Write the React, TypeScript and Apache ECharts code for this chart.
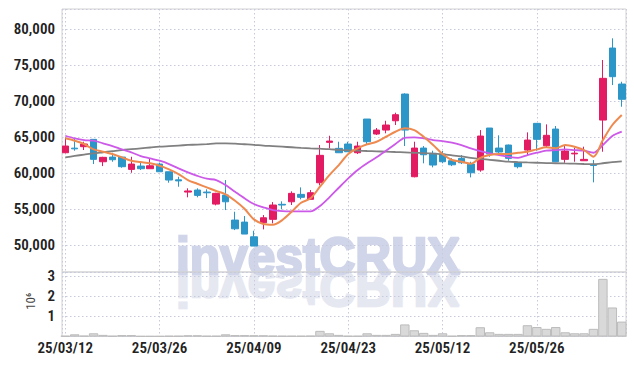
import { useEffect, useRef } from 'react';
import * as echarts from 'echarts';

const dates = [
  '25/03/12', '25/03/13', '25/03/14', '25/03/17', '25/03/18', '25/03/19', '25/03/20', '25/03/21', '25/03/24', '25/03/25',
  '25/03/26', '25/03/27', '25/03/28', '25/03/31', '25/04/01', '25/04/02', '25/04/03', '25/04/04', '25/04/07', '25/04/08',
  '25/04/09', '25/04/10', '25/04/11', '25/04/14', '25/04/15', '25/04/16', '25/04/17', '25/04/18', '25/04/21', '25/04/22',
  '25/04/23', '25/04/24', '25/04/25', '25/04/28', '25/04/29', '25/04/30', '25/05/02', '25/05/07', '25/05/08', '25/05/09',
  '25/05/12', '25/05/13', '25/05/14', '25/05/15', '25/05/16', '25/05/19', '25/05/20', '25/05/21', '25/05/22', '25/05/23',
  '25/05/26', '25/05/27', '25/05/28', '25/05/29', '25/05/30', '25/06/02', '25/06/04', '25/06/05', '25/06/09', '25/06/10',
];

// [open, close, low, high]
const candles = [
  [62860, 63790, 62800, 64970], [63500, 63400, 63140, 64860], [63700, 64070, 63240, 64390], [64720, 61940, 61290, 64720],
  [61610, 62220, 61010, 62300], [62260, 61890, 61610, 62860], [62260, 60920, 60780, 62260], [60550, 61290, 60080, 62300],
  [61010, 60640, 60460, 61610], [60640, 61050, 60640, 62080], [61290, 60220, 60220, 61470], [60220, 59070, 58700, 60220],
  [59100, 58950, 58140, 59530], [57400, 57550, 56670, 57920], [57680, 56940, 56670, 57920], [57400, 57300, 56570, 57780],
  [55730, 57220, 55550, 57300], [56980, 56050, 54900, 59070], [53510, 52300, 52120, 54670], [53230, 51570, 51570, 54070],
  [51190, 49900, 49900, 52030], [53140, 53830, 52220, 54210], [53610, 55600, 53050, 56010], [55700, 55600, 55000, 56110],
  [56050, 57220, 55600, 57500], [57080, 56670, 56390, 58050], [56390, 57310, 56390, 57680], [58690, 62500, 58330, 63930],
  [64300, 64480, 63470, 65220], [63470, 62860, 62860, 64390], [64070, 63000, 63000, 64390], [62860, 63790, 62680, 64390],
  [67540, 64390, 63930, 67540], [65460, 66010, 65320, 66290], [66010, 66710, 65560, 67300], [67300, 68140, 66710, 68420],
  [71010, 66010, 63790, 71110], [59530, 63510, 59440, 64390], [63510, 62580, 61390, 63790], [62780, 61150, 60830, 63140],
  [62680, 61610, 61400, 63100], [61750, 61190, 61010, 62100], [62080, 61470, 61290, 62540], [61290, 60080, 59440, 61610],
  [60460, 65180, 60220, 66010], [66290, 62680, 62300, 66290], [63510, 62960, 62680, 65280], [63930, 62080, 61750, 64000],
  [61530, 60920, 60690, 61530], [63230, 64620, 62540, 65690], [66940, 64720, 63140, 66940], [63830, 65280, 63550, 66800],
  [66150, 61610, 61610, 66570], [61940, 63100, 61470, 63790], [62700, 62800, 61610, 63550], [61750, 61940, 61750, 63700],
  [61200, 61100, 58750, 61850], [67400, 73190, 63000, 75740], [77400, 73420, 72260, 78750], [72400, 70280, 69250, 72720],
];

const volumes = [
  30000, 110000, 40000, 160000, 80000, 30000, 70000, 70000, 20000, 20000,
  20000, 30000, 30000, 60000, 60000, 30000, 30000, 110000, 70000, 70000,
  60000, 60000, 40000, 30000, 30000, 30000, 40000, 280000, 160000, 80000,
  30000, 30000, 160000, 80000, 80000, 130000, 600000, 310000, 180000, 80000,
  160000, 30000, 70000, 70000, 460000, 210000, 130000, 130000, 130000, 560000,
  470000, 380000, 470000, 210000, 160000, 160000, 380000, 2860000, 1440000, 740000,
];

const ma5 = [
  64860, 64530, 64070, 63330, 63000, 62680, 62220, 61750, 61570, 61390,
  61050, 60550, 59900, 59070, 58550, 58050, 57550, 57080, 56190, 55080,
  53610, 52960, 52860, 53510, 54670, 55920, 56530, 58140, 59760, 61150,
  62680, 63470, 64030, 64390, 65080, 65780, 66250, 66010, 65080, 63930,
  62680, 61850, 61610, 61330, 62150, 62540, 62680, 62680, 62860, 63000,
  63330, 63610, 63470, 63930, 63700, 63230, 62300, 64620, 66710, 68100,
];

const ma20 = [
  65220, 64860, 64620, 64530, 64170, 63790, 63330, 62910, 62400, 62080,
  61750, 61290, 60690, 60140, 59650, 59250, 59070, 58370, 57440, 56530,
  55740, 55280, 54900, 54760, 54720, 54720, 54720, 55460, 56670, 58000,
  59300, 60460, 61390, 62220, 63140, 64070, 64940, 65000, 64860, 64620,
  64480, 64250, 63930, 63470, 63100, 62780, 62540, 62300, 62160, 62540,
  62860, 63140, 63230, 63330, 63230, 63140, 62860, 63930, 65180, 65780,
];

const ma60 = [
  62220, 62420, 62600, 62780, 62930, 63080, 63230, 63350, 63470, 63590,
  63700, 63780, 63860, 63940, 64000, 64070, 64150, 64170, 64120, 64040,
  63960, 63850, 63780, 63700, 63620, 63540, 63470, 63420, 63360, 63260,
  63200, 63150, 63100, 63060, 63010, 62960, 62920, 62860, 62820, 62750,
  62640, 62500, 62350, 62150, 62000, 61880, 61750, 61620, 61560, 61510,
  61470, 61430, 61400, 61370, 61340, 61300, 61280, 61400, 61550, 61650,
];

const FONT = '"Noto Sans Condensed", "Liberation Sans Narrow", "Roboto Condensed", "Arial Narrow", "DejaVu Sans Condensed", sans-serif';
const UP = '#e31b63';
const DOWN = '#2d96c8';
const GRIDLINE = { show: true, lineStyle: { color: '#c6cadb', width: 1, type: [1.5, 2.5] as any } };

export default function App() {
  const ref = useRef<HTMLDivElement>(null);
  useEffect(() => {
    document.body.style.margin = '0';
    if (!ref.current) return;
    const chart = echarts.init(ref.current, undefined, { renderer: 'svg' });
    const xCommon = {
      type: 'value' as const,
      min: -0.35,
      max: 59.45,
      splitNumber: 6,
      minInterval: 10,
      maxInterval: 10,
      axisLine: { show: false },
      axisTick: { show: false },
      splitLine: GRIDLINE,
    };
    const labelStyle = { fontSize: 15, fontWeight: 600, color: '#222', fontFamily: FONT };
    const wmStyle = {
      text: 'investCRUX',
      x: 0,
      y: -16.4,
      fontSize: 52,
      fontWeight: 'bold',
      fontFamily: '"Liberation Sans", Arial, sans-serif',
      align: 'left',
      verticalAlign: 'middle',
      lineWidth: 2.5,
      lineJoin: 'round',
    };
    const option: any = {
      animation: false,
      textStyle: { fontFamily: FONT },
      grid: [
        { left: 62, top: 9, width: 564, height: 263, show: true, borderColor: '#d2d2d2', borderWidth: 1, outerBoundsMode: 'none' },
        { left: 62, top: 272, width: 564, height: 64.5, show: true, borderColor: '#d2d2d2', borderWidth: 1, outerBoundsMode: 'none' },
      ],
      xAxis: [
        { ...xCommon, gridIndex: 0, axisLabel: { show: false } },
        {
          ...xCommon,
          gridIndex: 1,
          axisLabel: {
            show: true,
            margin: 4,
            ...labelStyle,
            formatter: (v: number) => (Number.isInteger(v) && v >= 0 && v % 10 === 0 && dates[v] ? dates[v] : ''),
          },
        },
      ],
      yAxis: [
        {
          type: 'value',
          gridIndex: 0,
          min: 46300,
          max: 82820,
          splitNumber: 7,
          minInterval: 5000,
          maxInterval: 5000,
          axisLine: { show: false },
          axisTick: { show: false },
          splitLine: GRIDLINE,
          axisLabel: {
            margin: 7,
            ...labelStyle,
            formatter: (v: number) => (v % 5000 === 0 ? v.toLocaleString('en-US') : ''),
          },
        },
        {
          type: 'value',
          gridIndex: 1,
          min: 0,
          max: 3200000,
          splitNumber: 3,
          minInterval: 1000000,
          maxInterval: 1000000,
          axisLine: { show: false },
          axisTick: { show: false },
          splitLine: GRIDLINE,
          name: '10⁶',
          nameLocation: 'middle',
          nameRotate: 90,
          nameGap: 23,
          nameTextStyle: { fontSize: 13, color: '#444', fontFamily: FONT, padding: [0, 0, 0, 6] },
          axisLabel: {
            margin: 7,
            ...labelStyle,
            formatter: (v: number) => (v > 0 && v % 1000000 === 0 ? String(v / 1000000) : ''),
          },
        },
      ],
      graphic: [
        {
          type: 'text',
          x: 176,
          y: 272,
          scaleX: 0.955,
          scaleY: -1,
          z: -10,
          silent: true,
          style: { ...wmStyle, fill: '#e6e8f1', stroke: '#e6e8f1' },
        },
        {
          type: 'text',
          x: 176,
          y: 272,
          scaleX: 0.955,
          z: -10,
          silent: true,
          style: { ...wmStyle, fill: '#d0d5e9', stroke: '#d0d5e9' },
        },
      ],
      series: [
        {
          type: 'bar',
          xAxisIndex: 1,
          yAxisIndex: 1,
          data: volumes.map((v, i) => [i, v]),
          barWidth: 9.43,
          itemStyle: { color: '#d9d9d9', borderColor: '#bcbcbc', borderWidth: 1 },
        },
        {
          type: 'candlestick',
          xAxisIndex: 0,
          yAxisIndex: 0,
          data: candles.map((c, i) => [i, c[0], c[1], c[2], c[3]]),
          encode: { x: 0, y: [1, 2, 3, 4] },
          barWidth: 7,
          itemStyle: { color: UP, color0: DOWN, borderColor: UP, borderColor0: DOWN, borderWidth: 1 },
        },
        {
          type: 'line',
          xAxisIndex: 0,
          yAxisIndex: 0,
          data: ma60.map((v, i) => [i, v]),
          symbol: 'none',
          smooth: 0.3,
          z: 4,
          lineStyle: { color: '#808080', width: 1.8 },
        },
        {
          type: 'line',
          xAxisIndex: 0,
          yAxisIndex: 0,
          data: ma20.map((v, i) => [i, v]),
          symbol: 'none',
          smooth: 0.3,
          z: 4,
          lineStyle: { color: '#cc59e8', width: 1.8 },
        },
        {
          type: 'line',
          xAxisIndex: 0,
          yAxisIndex: 0,
          data: ma5.map((v, i) => [i, v]),
          symbol: 'none',
          smooth: 0.3,
          z: 4,
          lineStyle: { color: '#ee8a4f', width: 2 },
        },
      ],
    };
    chart.setOption(option);
    return () => chart.dispose();
  }, []);
  return <div ref={ref} style={{ width: 634, height: 366 }} />;
}
